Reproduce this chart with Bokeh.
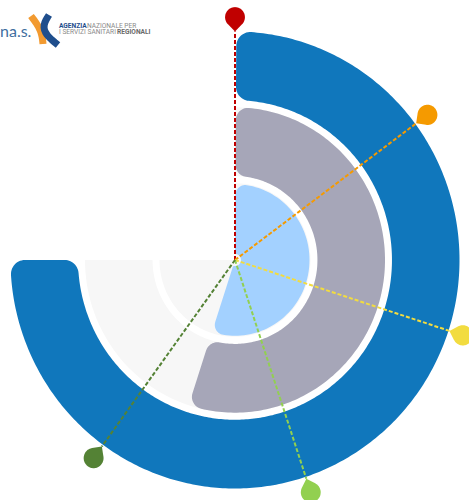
import math
from bokeh.plotting import figure
from bokeh.models import Range1d
from bokeh.core.properties import value
from bokeh.embed import file_html
from bokeh.resources import INLINE

# Data (percent of a full turn, clockwise from north)
series_names = ["outer", "middle", "inner"]
series_values = [75, 55, 55]
series_outer = [226, 151, 75]
series_inner = [158, 83, 6]
series_colors = ["#1077BC", "#A6A6B8", "#A3D1FF"]
series_corner = [14, 12, 10]
track_outer = [151, 76]
track_inner = [83, 0]
track_color = "#F7F7F7"
track_value = 75

marker_values = [0, 14.85, 30, 44.9, 60]
marker_colors = ["#C00000", "#F59A00", "#F2DC40", "#92D050", "#548235"]
marker_radius = [226, 227, 227, 228, 228]
drop_r = 10

# Page position of the chart centre and stretch of the two axes (px per data unit)
CX, CY = 234.5, 259.5
SX, SY = 0.9934, 1.011
W, H = 469, 500


def pol(r, a):
    return r * math.sin(a), r * math.cos(a)


def arc(c, r, a0, a1, n=14):
    out = []
    d = (a1 - a0 + math.pi) % (2 * math.pi) - math.pi
    for i in range(n + 1):
        t = a0 + d * i / n
        out.append((c[0] + r * math.sin(t), c[1] + r * math.cos(t)))
    return out


def corner(rc, ang, c, p0, p1):
    ce = pol(rc, ang)
    a0 = math.atan2(p0[0] - ce[0], p0[1] - ce[1])
    a1 = math.atan2(p1[0] - ce[0], p1[1] - ce[1])
    return arc(ce, c, a0, a1)


def sector(R, r, a0, a1, c, ci):
    pts = []
    d = math.asin(c / (R - c))
    L = math.sqrt((R - c) ** 2 - c ** 2)
    pts += corner(R - c, a0 + d, c, pol(L, a0), pol(R, a0 + d))
    n = max(8, int(abs(a1 - a0 - 2 * d) * R / 3))
    for i in range(n + 1):
        pts.append(pol(R, a0 + d + (a1 - a0 - 2 * d) * i / n))
    pts += corner(R - c, a1 - d, c, pol(R, a1 - d), pol(L, a1))
    if r > 0:
        di = math.asin(ci / (r + ci))
        Li = math.sqrt((r + ci) ** 2 - ci ** 2)
        pts += corner(r + ci, a1 - di, ci, pol(Li, a1), pol(r, a1 - di))
        for i in range(n + 1):
            pts.append(pol(r, a1 - di - (a1 - a0 - 2 * di) * i / n))
        pts += corner(r + ci, a0 + di, ci, pol(r, a0 + di), pol(Li, a0))
    else:
        pts.append((0, 0))
    return [p[0] for p in pts], [p[1] for p in pts]


def plain(R, r, a0, a1):
    n = 120
    xs, ys = [], []
    for i in range(n + 1):
        x, y = pol(R, a0 + (a1 - a0) * i / n)
        xs.append(x); ys.append(y)
    for i in range(n + 1):
        x, y = pol(r, a1 - (a1 - a0) * i / n)
        xs.append(x); ys.append(y)
    return xs, ys


def drop(a, tip_r, rad):
    cd = rad * math.sqrt(2)
    ce = pol(tip_r + cd, a)
    tip = pol(tip_r, a)
    pts = [tip]
    for i in range(61):
        t = a + math.pi + math.pi / 4 + (1.5 * math.pi) * i / 60
        pts.append((ce[0] + rad * math.sin(t), ce[1] + rad * math.cos(t)))
    pts.append(tip)
    return [p[0] for p in pts], [p[1] for p in pts]


p = figure(width=W, height=H, output_backend="svg", toolbar_location=None,
           x_range=Range1d(-CX / SX, (W - CX) / SX), y_range=Range1d((CY - H) / SY, CY / SY),
           min_border=0, outline_line_color=None, background_fill_color="white")
p.xaxis.visible = False
p.yaxis.visible = False
p.grid.visible = False

TAU = 2 * math.pi
for R, r in zip(track_outer, track_inner):
    xs, ys = plain(R, r, 0, track_value / 100 * TAU)
    p.patch(xs, ys, fill_color=track_color, line_color=None)

for v, R, r, col, c in zip(series_values, series_outer, series_inner, series_colors, series_corner):
    ci = c if r > 20 else 1.5
    xs, ys = sector(R, r, 0.006, v / 100 * TAU, c, ci)
    p.patch(xs, ys, fill_color=col, line_color=None)

for v, col, mr in zip(marker_values, marker_colors, marker_radius):
    a = v / 100 * TAU
    tx, ty = pol(mr, a)
    p.line([0, tx], [0, ty], line_color=col, line_width=2, line_dash="4 2")
    xs, ys = drop(a, mr, drop_r)
    p.patch(xs, ys, fill_color=col, line_color=None)

# Logo, placed by page pixel
def lx(px): return (px - CX - 0.5) / SX
def ly(py): return (CY + 0.5 - py) / SY

p.text([lx(0)], [ly(30)], text=["na.s."], text_font=value("Lato"), text_font_size="16px",
       text_color="#3F6FA0", text_baseline="middle", text_align="left")
ox, oy = zip(*[(lx(31 + 12 * (i / 12) + 3 * math.sin(i / 12 * math.pi)), ly(16 + 28 * i / 12)) for i in range(13)])
p.line(list(ox), list(oy), line_color="#F29A30", line_width=7)
nx, ny = zip(*[(lx(49 - 9 * math.sin(i / 12 * math.pi) + 9 * (i / 12)), ly(15 + 30 * i / 12)) for i in range(13)])
p.line(list(nx), list(ny), line_color="#1F4E8C", line_width=7)

p.text([lx(59)], [ly(26)], text=["AGENZIA"], text_font=value("Roboto"), text_font_size="6.6px",
       text_font_style="bold", text_color="#1F4E8C", text_baseline="middle")
p.text([lx(87)], [ly(26)], text=["NAZIONALE PER"], text_font=value("Roboto"), text_font_size="6.6px",
       text_color="#8A8A8A", text_baseline="middle")
p.text([lx(59)], [ly(32)], text=["I SERVIZI SANITARI"], text_font=value("Roboto"), text_font_size="6.6px",
       text_color="#8A8A8A", text_baseline="middle")
p.text([lx(117)], [ly(32)], text=["REGIONALI"], text_font=value("Roboto"), text_font_size="6.6px",
       text_font_style="bold", text_color="#6A6A6A", text_baseline="middle")

open("out.html", "w").write(file_html(p, INLINE))
